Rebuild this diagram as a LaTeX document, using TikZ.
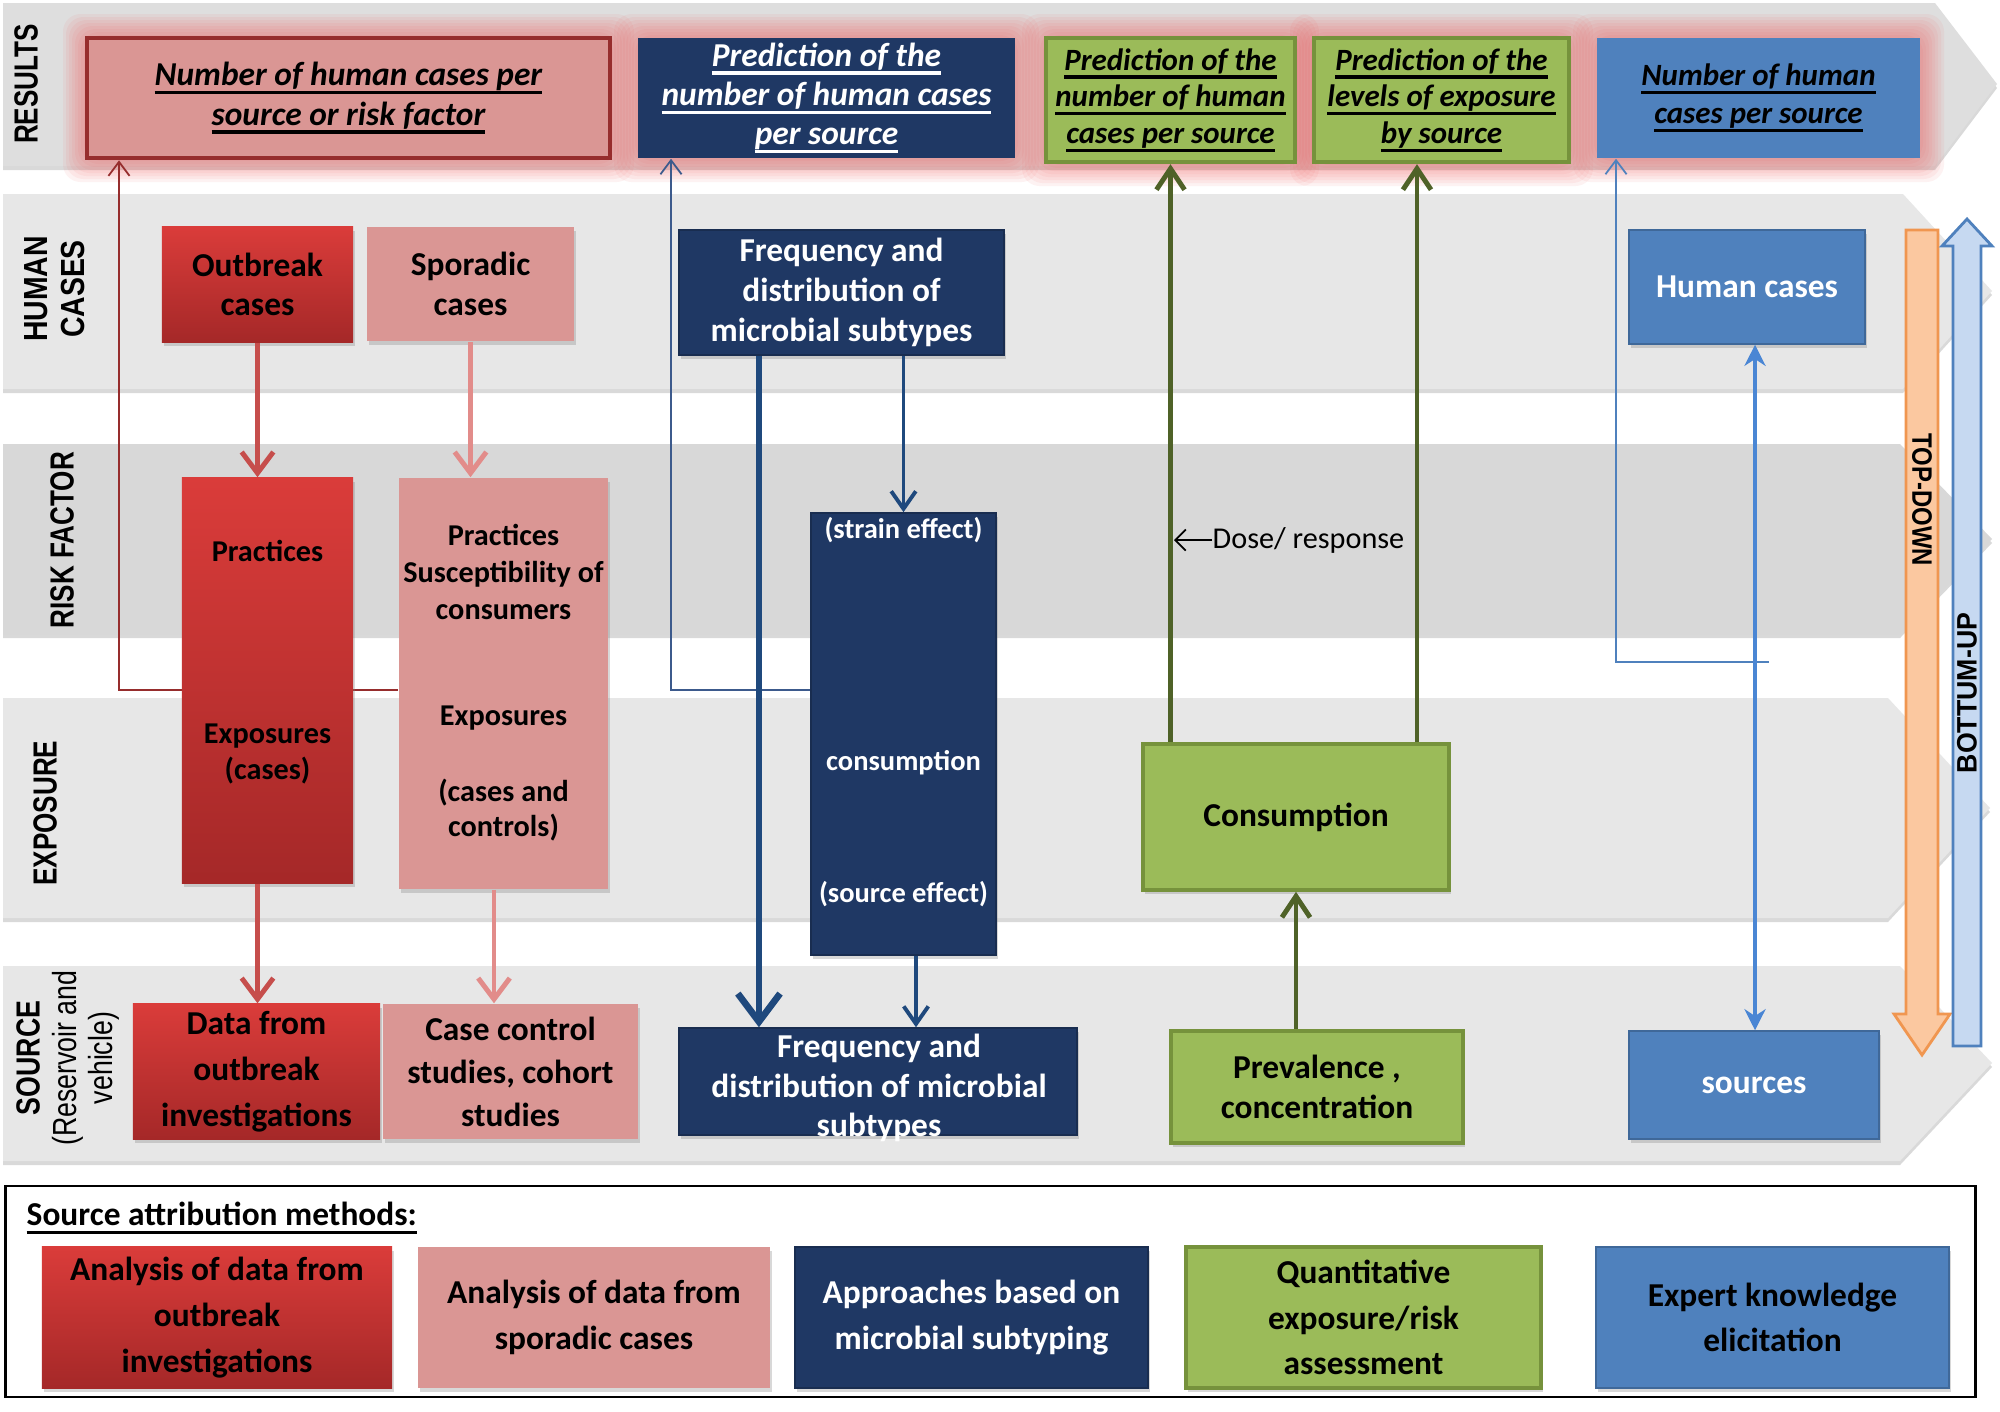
\documentclass[tikz,border=0pt]{standalone}
\usepackage{fontspec}
\usepackage{graphicx}
\setmainfont{Carlito}
\newfontfamily\labfont{Liberation Sans}
\usetikzlibrary{arrows.meta,calc,shadows}
\pgfdeclarelayer{bg}
\pgfdeclarelayer{lines}
\pgfsetlayers{bg,lines,main}

\definecolor{bandA}{RGB}{231,231,231}
\definecolor{bandB}{RGB}{216,216,216}
\definecolor{bandR}{RGB}{222,222,222}
\definecolor{redT}{RGB}{218,60,58}
\definecolor{redB}{RGB}{165,40,40}
\definecolor{pinkF}{RGB}{218,150,148}
\definecolor{navyF}{RGB}{31,56,100}
\definecolor{greenF}{RGB}{155,187,89}
\definecolor{greenD}{RGB}{118,146,60}
\definecolor{blueF}{RGB}{79,129,189}
\definecolor{blueD}{RGB}{56,93,138}
\definecolor{redA}{RGB}{198,78,76}
\definecolor{pinkA}{RGB}{226,140,138}
\definecolor{navyA}{RGB}{31,73,125}
\definecolor{greenA}{RGB}{79,98,40}
\definecolor{blueA}{RGB}{74,134,212}
\definecolor{darkred}{RGB}{150,45,45}
\definecolor{glowC}{RGB}{240,90,90}
\definecolor{orangeF}{RGB}{251,200,160}
\definecolor{orangeD}{RGB}{240,150,80}
\definecolor{lblueF}{RGB}{198,217,241}
\definecolor{thinN}{RGB}{60,90,140}

\newsavebox\ulbox
\newcommand\ulx[1]{\sbox\ulbox{#1}\rlap{\rule[-2.4pt]{\wd\ulbox}{0.9pt}}\usebox\ulbox}
\newcommand\fs[2]{\fontsize{#1}{#2}\selectfont}

\begin{document}
\begin{tikzpicture}[x=0.01cm,y=-0.01cm,
  bx/.style={inner sep=0pt, align=center, font=\fs{9.5}{11.3}\bfseries,
     drop shadow={shadow xshift=0.6pt,shadow yshift=-1.2pt,opacity=0.3}},
  redbox/.style={bx, top color=redT, bottom color=redB, text=black},
  pinkbox/.style={bx, fill=pinkF, text=black},
  navybox/.style={bx, fill=navyF, draw=navyF!80!black, text=white},
  greenbox/.style={bx, fill=greenF, draw=greenD, line width=1pt, text=black},
  bluebox/.style={bx, fill=blueF, draw=blueD!70!blueF, text=white},
  res/.style={inner sep=0pt, align=center, font=\fs{9.5}{11.2}\bfseries\itshape},
  tt/.style={inner sep=0pt, align=center, font=\fs{8.6}{10.6}\bfseries},
  lab/.style={inner sep=0pt, align=center, rotate=90, font={\labfont\fs{9.5}{10.5}\bfseries}},
  rarr/.style={draw=redA, line width=1.4pt, -{Straight Barb[length=6pt,width=9pt]}},
  parr/.style={draw=pinkA, line width=1.4pt, -{Straight Barb[length=6pt,width=9pt]}},
  navthick/.style={draw=navyA, line width=1.9pt, -{Straight Barb[length=8pt,width=12pt]}},
  navarr/.style={draw=navyA, line width=1.1pt, -{Straight Barb[length=5pt,width=7pt]}},
  grarr/.style={draw=greenA, line width=1.4pt, -{Straight Barb[length=6pt,width=8pt]}},
  bluedbl/.style={draw=blueA, line width=1.2pt, {Stealth[length=6pt,width=6pt]}-{Stealth[length=6pt,width=6pt]}},
  thinred/.style={draw=darkred, line width=0.5pt, -{Straight Barb[length=4pt,width=6pt]}},
  thinnavy/.style={draw=thinN, line width=0.5pt, -{Straight Barb[length=4pt,width=6pt]}},
  thinblue/.style={draw=blueF, line width=0.5pt, -{Straight Barb[length=4pt,width=6pt]}},
  thinblack/.style={draw=black, line width=0.5pt, -{Straight Barb[length=3pt,width=6pt]}}
]
\useasboundingbox (0,0) rectangle (2000,1411);

\begin{pgfonlayer}{bg}
\fill[white] (0,0) rectangle (2000,1411);
% band shadows
\fill[black!15] (3,7) -- (1935,7) -- (1997,88) -- (1935,170) -- (3,170) -- cycle;
\fill[black!15] (3,198) -- (1903,198) -- (1992,295) -- (1903,393) -- (3,393) -- cycle;
\fill[black!15] (3,448) -- (1900,448) -- (1992,543) -- (1900,638) -- (3,638) -- cycle;
\fill[black!15] (3,702) -- (1888,702) -- (1990,812) -- (1888,922) -- (3,922) -- cycle;
\fill[black!15] (3,970) -- (1900,970) -- (1992,1067) -- (1900,1165) -- (3,1165) -- cycle;
% bands
\fill[bandR] (3,3) -- (1935,3) -- (1997,84) -- (1935,166) -- (3,166) -- cycle;
\fill[bandA] (3,194) -- (1903,194) -- (1992,291) -- (1903,389) -- (3,389) -- cycle;
\fill[bandB] (3,444) -- (1900,444) -- (1992,539) -- (1900,634) -- (3,634) -- cycle;
\fill[bandA] (3,698) -- (1888,698) -- (1990,808) -- (1888,918) -- (3,918) -- cycle;
\fill[bandA] (3,966) -- (1900,966) -- (1992,1063) -- (1900,1161) -- (3,1161) -- cycle;
% glow around results
\foreach \a/\b/\c/\d in {87/38/610/158, 638/38/1015/158, 1046/38/1295/162, 1314/38/1569/162, 1597/38/1920/158}{
  \foreach \k in {3,6,9,12,15,18,21,24}{
    \fill[glowC, opacity=0.075, rounded corners=5pt] (\a-\k,\b-\k) rectangle (\c+\k,\d+\k);
  }
}
\end{pgfonlayer}

% ---------- row labels ----------
\node[lab] (lres) at (26,84) {\scalebox{0.78}[1]{RESULTS}};
\node[lab] (lhum) at (55,289) {\scalebox{0.85}[1]{HUMAN}\\\scalebox{0.85}[1]{CASES}};
\node[lab] (lrisk) at (62,540) {\scalebox{0.78}[1]{RISK FACTOR}};
\node[lab] (lexp) at (45,813) {\scalebox{0.78}[1]{EXPOSURE}};
\node[lab, font={\labfont\fs{9.5}{10.4}}] (lsrc) at (68,1058)
  {\scalebox{0.8}[1]{\bfseries SOURCE}\\\scalebox{0.8}[1]{(Reservoir and}\\\scalebox{0.8}[1]{vehicle)}};

% ---------- results ----------
\node[res, draw=darkred, line width=1.3pt, fill=pinkF, minimum width=5.23cm, minimum height=1.20cm] (R1) at (348.5,98)
  {\ulx{Number of human cases per}\\\ulx{source or risk factor}};
\node[res, fill=navyF, text=white, minimum width=3.77cm, minimum height=1.20cm] (R2) at (826.5,98)
  {\ulx{Prediction of the}\\\ulx{number of human cases}\\\ulx{per source}};
\node[res, font=\fs{8.8}{10.4}\bfseries\itshape, fill=greenF, draw=greenD, line width=1.2pt, minimum width=2.49cm, minimum height=1.24cm] (R3) at (1170.5,100)
  {\ulx{Prediction of the}\\\ulx{number of human}\\\ulx{cases per source}};
\node[res, font=\fs{8.8}{10.4}\bfseries\itshape, fill=greenF, draw=greenD, line width=1.2pt, minimum width=2.55cm, minimum height=1.24cm] (R4) at (1441.5,100)
  {\ulx{Prediction of the}\\\ulx{levels of exposure}\\\ulx{by source}};
\node[res, font=\fs{8.8}{10.9}\bfseries\itshape, fill=blueF, text=black, minimum width=3.23cm, minimum height=1.20cm] (R5) at (1758.5,98)
  {\ulx{Number of human}\\\ulx{cases per source}};

% ---------- human cases ----------
\node[redbox, minimum width=1.91cm, minimum height=1.15cm] (H1) at (257.5,284.5) {Outbreak\\cases};
\node[pinkbox, minimum width=2.07cm, minimum height=1.14cm] (H2) at (470.5,284) {Sporadic\\cases};
\node[navybox, minimum width=3.25cm, minimum height=1.25cm] (H3) at (841.5,292.5) {Frequency and\\distribution of\\microbial subtypes};
\node[bluebox, minimum width=2.36cm, minimum height=1.14cm] (H4) at (1747,287) {Human cases};

% ---------- tall boxes ----------
\node[redbox, minimum width=1.71cm, minimum height=4.05cm] (T1) at (267.5,680.5) {};
\node[pinkbox, minimum width=2.09cm, minimum height=4.11cm] (T2) at (503.5,683.5) {};
\node[navybox, minimum width=1.85cm, minimum height=4.42cm] (T3) at (903.5,734) {};
\node[tt] (t1a) at (267.5,551) {Practices};
\node[tt, font=\fs{8.6}{10.2}\bfseries] (t1b) at (267.5,754) {Exposures\\(cases)};
\node[tt] (t2a) at (503.5,572) {Practices\\Susceptibility of\\consumers};
\node[tt] (t2b) at (503.5,718) {Exposures};
\node[tt, font=\fs{8.6}{10.2}\bfseries] (t2c) at (503.5,810) {(cases and\\controls)};
\node[tt, font=\fs{8.1}{10}\bfseries, text=white] (t3a) at (903.5,530) {(strain effect)};
\node[tt, font=\fs{8.1}{10}\bfseries, text=white] (t3b) at (903.5,763) {consumption};
\node[tt, font=\fs{8.1}{10}\bfseries, text=white] (t3c) at (903.5,894) {(source effect)};

\node[greenbox, minimum width=3.06cm, minimum height=1.46cm] (C) at (1296,817) {Consumption};
\node[anchor=west, inner sep=0pt, font=\fs{8.6}{10}] (D) at (1212,540) {Dose/ response};
\coordinate (dr) at (1174,540);

% ---------- source ----------
\node[redbox, font=\fs{9.5}{13}\bfseries, minimum width=2.47cm, minimum height=1.35cm] (S1) at (256.5,1071.5) {Data from\\outbreak\\investigations};
\node[pinkbox, font=\fs{9.5}{12.2}\bfseries, minimum width=2.55cm, minimum height=1.35cm] (S2) at (510.5,1071.5) {Case control\\studies, cohort\\studies};
\node[navybox, minimum width=3.98cm, minimum height=1.07cm] (S3) at (878,1081.5) {};
\node[tt, font=\fs{9.5}{11.2}\bfseries, text=white] (s3t) at (879,1088) {Frequency and\\distribution of microbial\\subtypes};
\node[greenbox, minimum width=2.92cm, minimum height=1.12cm] (S4) at (1317,1087) {Prevalence ,\\concentration};
\node[bluebox, minimum width=2.50cm, minimum height=1.08cm] (S5) at (1754,1085) {sources};

% ---------- arrows ----------
\draw[rarr] (H1.south) -- (H1.south |- T1.north);
\draw[parr] (H2.south) -- (H2.south |- T2.north);
\draw[rarr] (H1.south |- T1.south) -- (H1.south |- S1.north);
\coordinate (p4) at ([xshift=-0.095cm]T2.south);
\draw[parr] (p4) -- (p4 |- S2.north);

\coordinate (n1) at ([xshift=-0.825cm]H3.south);
\draw[navthick] (n1) -- (n1 |- S3.north);
\draw[navarr] (T3.north |- H3.south) -- (T3.north);
\coordinate (n3) at ([xshift=0.125cm]T3.south);
\draw[navarr] (n3) -- (n3 |- S3.north);

\draw[grarr] (R3.south |- C.north) -- (R3.south);
\coordinate (g2) at ([xshift=-0.245cm]R4.south);
\draw[grarr] (g2 |- C.north) -- (g2);
\draw[grarr] (C.south |- S4.north) -- (C.south);

\coordinate (b1) at ([xshift=0.08cm]H4.south);
\draw[bluedbl] (b1) -- (b1 |- S5.north);

\draw[thinblack] (D.west) -- (dr);

\begin{pgfonlayer}{lines}
\coordinate (k1) at (119,690);
\draw[thinred] (k1 -| T2.west) -- (k1) -- (k1 |- R1.south);
\coordinate (k2) at (671,690);
\draw[thinnavy] (k2 -| T3.west) -- (k2) -- (k2 |- R2.south);
\coordinate (k3) at (1616,662);
\coordinate (k3e) at (1769,662);
\draw[thinblue] (k3e) -- (k3) -- (k3 |- R5.south);
\end{pgfonlayer}

% ---------- top-down / bottom-up ----------
\filldraw[fill=orangeF, draw=orangeD, line width=0.8pt]
  (1906,230) -- (1938,230) -- (1938,1014) -- (1950,1014) -- (1922,1055) -- (1894,1014) -- (1906,1014) -- cycle;
\filldraw[fill=lblueF, draw=blueF, line width=0.8pt]
  (1953,1046) -- (1981,1046) -- (1981,246) -- (1992,246) -- (1967,219) -- (1942,246) -- (1953,246) -- cycle;
\node[inner sep=0pt, rotate=-90, font={\labfont\fs{8}{9}\bfseries}] (td) at (1922,500) {\scalebox{0.85}[1]{TOP-DOWN}};
\node[inner sep=0pt, rotate=90, font={\labfont\fs{8}{9}\bfseries}] (bu) at (1967,693) {\scalebox{0.95}[1]{BOTTUM-UP}};

% ---------- legend ----------
\node[draw=black, line width=0.8pt, minimum width=19.69cm, minimum height=2.11cm, inner sep=0pt] (leg) at (990.5,1291.5) {};
\node[anchor=west, inner sep=0pt, font=\fs{9.5}{11}\bfseries] (lh) at (26,1218) {\ulx{Source attribution methods:}};
\node[redbox, font=\fs{9.5}{13}\bfseries, minimum width=3.50cm, minimum height=1.41cm] (L1) at (217,1317.5) {Analysis of data from\\outbreak\\investigations};
\node[pinkbox, font=\fs{9.5}{13}\bfseries, minimum width=3.52cm, minimum height=1.41cm] (L2) at (594,1317.5) {Analysis of data from\\sporadic cases};
\node[navybox, font=\fs{9.5}{13}\bfseries, minimum width=3.53cm, minimum height=1.41cm] (L3) at (971.5,1317.5) {Approaches based on\\microbial subtyping};
\node[greenbox, font=\fs{9.5}{13}\bfseries, minimum width=3.55cm, minimum height=1.41cm] (L4) at (1363.5,1317.5) {Quantitative\\exposure/risk\\assessment};
\node[bluebox, text=black, font=\fs{9.5}{13}\bfseries, minimum width=3.53cm, minimum height=1.41cm] (L5) at (1772.5,1317.5) {Expert knowledge\\elicitation};
\end{tikzpicture}
\end{document}
